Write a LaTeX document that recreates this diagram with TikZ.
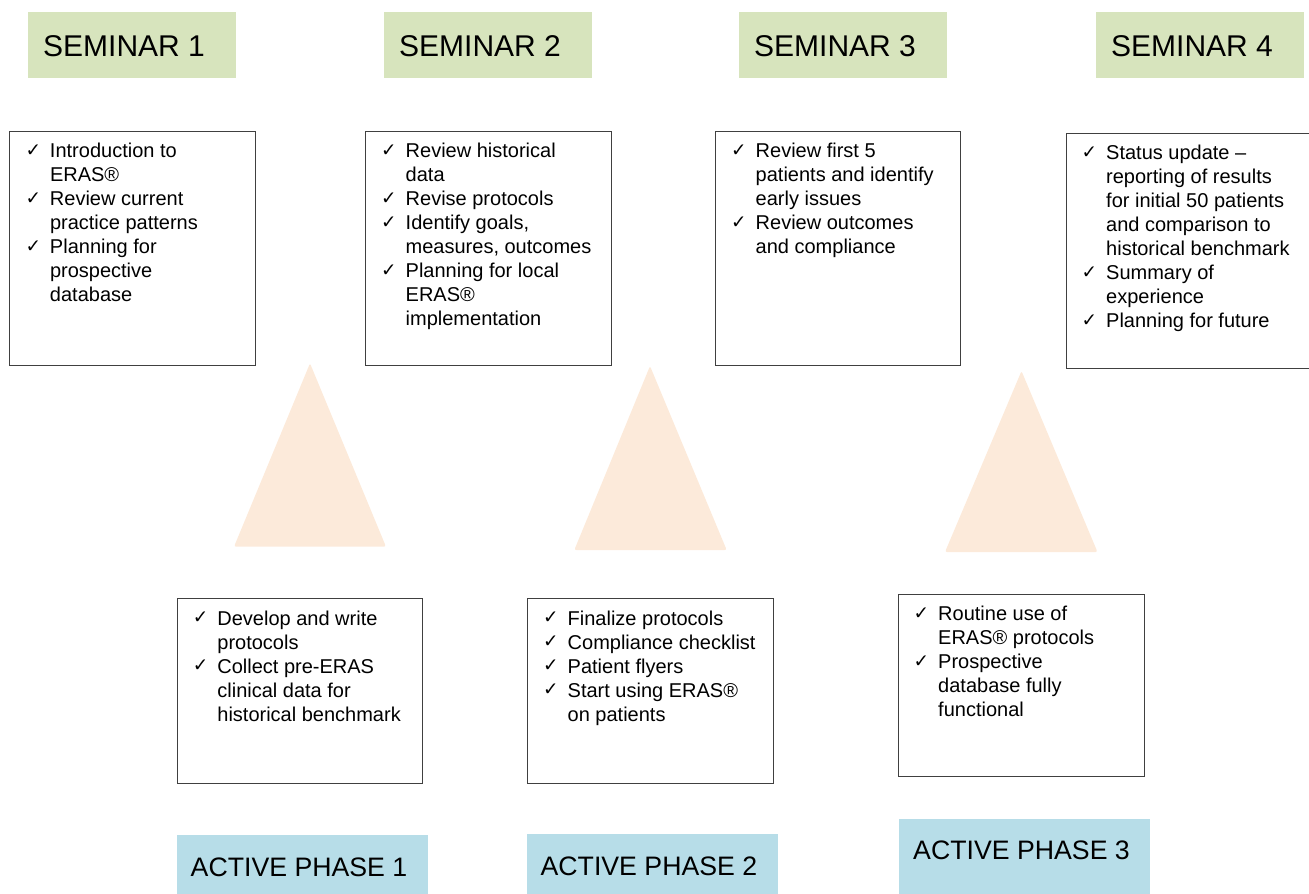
\documentclass[tikz,border=0pt]{standalone}
\usepackage{fontspec}
\setmainfont{Liberation Sans}
\newfontfamily\symfont{DejaVu Sans}
\usetikzlibrary{calc}

\definecolor{seminarfill}{HTML}{D7E4BD}
\definecolor{phasefill}{HTML}{B7DDE8}
\definecolor{wedgefill}{HTML}{FCEADA}
\definecolor{boxline}{HTML}{404040}

% check mark in its own column, then the item text
\newcommand\ckmark{\makebox[24.5pt][l]{\raisebox{1.5pt}{\symfont\fontsize{18.5}{24}\selectfont ✓}}}
\newenvironment{checklist}%
  {\fontsize{20}{24}\selectfont\begin{tabular}[t]{@{}l@{}l@{}}}%
  {\end{tabular}}

\tikzset{
  seminar/.style={fill=seminarfill, draw=none, inner sep=0pt, anchor=north west,
                  minimum width=208pt, minimum height=66pt},
  phase/.style={fill=phasefill, draw=none, inner sep=0pt, anchor=north west,
                minimum width=251pt},
  listbox/.style={draw=boxline, line width=1.1pt, fill=white, inner sep=0pt,
                  anchor=north west},
  heading/.style={anchor=base west, inner sep=0pt, font=\fontsize{30}{36}\selectfont},
  phasehead/.style={anchor=base west, inner sep=0pt, font=\fontsize{26.7}{32}\selectfont},
  listtext/.style={anchor=base west, inner sep=0pt},
  wedge/.style={fill=wedgefill, rounded corners=2pt}
}

\begin{document}
\begin{tikzpicture}[x=1pt, y=-1pt]
\useasboundingbox (0,0) rectangle (1309,894);

% ---------- seminar headings ----------
\node[seminar] (s1) at (28,12) {};
\node[seminar] (s2) at (384,12) {};
\node[seminar] (s3) at (739,12) {};
\node[seminar] (s4) at (1096,12) {};
\foreach \s/\n in {s1/1, s2/2, s3/3, s4/4}
  \node[heading] (\s t) at ($(\s.north west)+(15,44)$) {SEMINAR \n};

% ---------- seminar content ----------
\node[listbox, minimum width=246pt, minimum height=234pt] (b1) at (9.3,131) {};
\node[listtext] (b1t) at ($(b1.north west)+(16,26.5)$) {\begin{checklist}
\ckmark & Introduction to\\
        & ERAS®\\
\ckmark & Review current\\
        & practice patterns\\
\ckmark & Planning for\\
        & prospective\\
        & database
\end{checklist}};

\node[listbox, minimum width=245.7pt, minimum height=234pt] (b2) at (365,131) {};
\node[listtext] (b2t) at ($(b2.north west)+(16,26.5)$) {\begin{checklist}
\ckmark & Review historical\\
        & data\\
\ckmark & Revise protocols\\
\ckmark & Identify goals,\\
        & measures, outcomes\\
\ckmark & Planning for local\\
        & ERAS®\\
        & implementation
\end{checklist}};

\node[listbox, minimum width=245pt, minimum height=234pt] (b3) at (715,131) {};
\node[listtext] (b3t) at ($(b3.north west)+(16,26.5)$) {\begin{checklist}
\ckmark & Review first 5\\
        & patients and identify\\
        & early issues\\
\ckmark & Review outcomes\\
        & and compliance
\end{checklist}};

\node[listbox, minimum width=243pt, minimum height=235pt] (b4) at (1066,133) {};
\node[listtext] (b4t) at ($(b4.north west)+(15.5,26.5)$) {\begin{checklist}
\ckmark & Status update –\\
        & reporting of results\\
        & for initial 50 patients\\
        & and comparison to\\
        & historical benchmark\\
\ckmark & Summary of\\
        & experience\\
\ckmark & Planning for future
\end{checklist}};

% ---------- wedges between the phases ----------
\fill[wedge] (310,363.3) -- (386,546.7) -- (234,546.7) -- cycle;
\fill[wedge] (650,366) -- (726.7,550) -- (574.3,550) -- cycle;
\fill[wedge] (1021.5,371) -- (1097.5,552) -- (945,552) -- cycle;

% ---------- active phase content ----------
\node[listbox, minimum width=245.3pt, minimum height=185pt] (a1) at (176.7,598) {};
\node[listtext] (a1t) at ($(a1.north west)+(16,27)$) {\begin{checklist}
\ckmark & Develop and write\\
        & protocols\\
\ckmark & Collect pre-ERAS\\
        & clinical data for\\
        & historical benchmark
\end{checklist}};

\node[listbox, minimum width=246pt, minimum height=185pt] (a2) at (527,598) {};
\node[listtext] (a2t) at ($(a2.north west)+(16,27)$) {\begin{checklist}
\ckmark & Finalize protocols\\
\ckmark & Compliance checklist\\
\ckmark & Patient flyers\\
\ckmark & Start using ERAS®\\
        & on patients
\end{checklist}};

\node[listbox, minimum width=246pt, minimum height=182pt] (a3) at (898,593.5) {};
\node[listtext] (a3t) at ($(a3.north west)+(15.5,27)$) {\begin{checklist}
\ckmark & Routine use of\\
        & ERAS® protocols\\
\ckmark & Prospective\\
        & database fully\\
        & functional
\end{checklist}};

% ---------- active phase headings ----------
\node[phase, minimum height=59pt] (p1) at (177,835) {};
\node[phase, minimum height=60pt] (p2) at (527,834) {};
\node[phase, minimum height=75pt] (p3) at (899,819) {};
\node[phasehead] (p1t) at ($(p1.north west)+(13.5,41.7)$) {ACTIVE PHASE 1};
\node[phasehead] (p2t) at ($(p2.north west)+(13.4,41)$) {ACTIVE PHASE 2};
\node[phasehead] (p3t) at ($(p3.north west)+(14,40.5)$) {ACTIVE PHASE 3};
\end{tikzpicture}
\end{document}
